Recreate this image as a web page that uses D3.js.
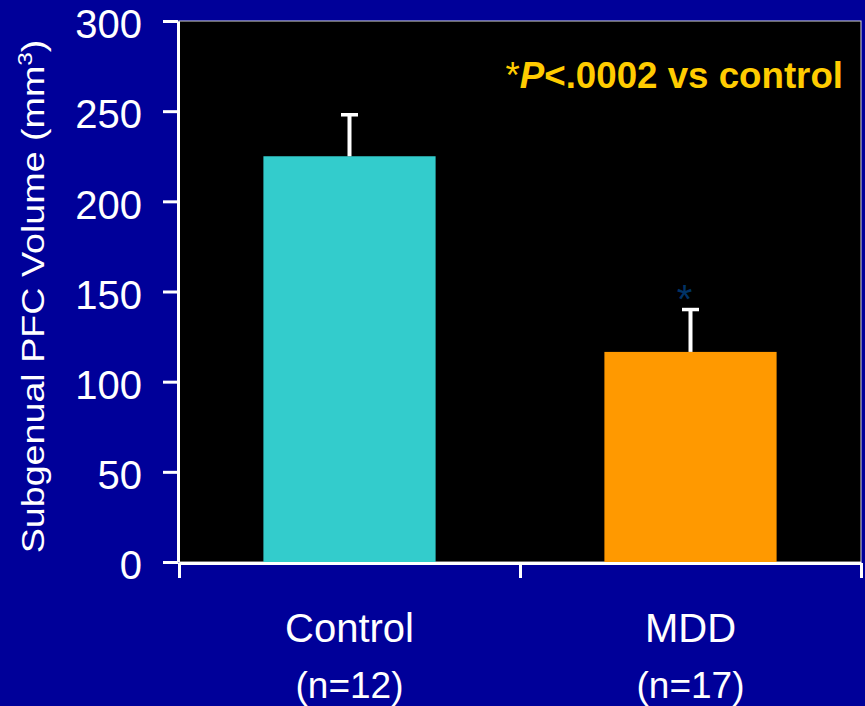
<!DOCTYPE html>
<html>
<head>
<meta charset="utf-8">
<script src="https://cdn.jsdelivr.net/npm/d3@7"></script>
<style>
  html, body { margin: 0; padding: 0; background: #000099; }
  svg { display: block; }
  text { font-family: "Liberation Sans", Arial, sans-serif; }
</style>
</head>
<body>
<script>
// ---- data ----
const categories = ["Control", "MDD"];
const sampleSizes = ["(n=12)", "(n=17)"];
const means = [225, 116.5];
const errorTops = [248, 140];
const barColors = ["#33CCCC", "#FF9900"];
const yTicks = [0, 50, 100, 150, 200, 250, 300];
const yTitle = "Subgenual PFC Volume (mm";
const yTitleSup = "3";
const noteStar = "*";
const noteP = "P";
const noteRest = "<.0002 vs control";
const sigMark = "*";
const sigIndex = 1;

// ---- layout ----
const W = 865, H = 706;
const pLeft = 179, pRight = 861, pTop = 21, pBottom = 562;

const svg = d3.select("body").append("svg").attr("width", W).attr("height", H);
svg.append("rect").attr("width", W).attr("height", H).attr("fill", "#000099");

const y = d3.scaleLinear().domain([0, 300]).range([pBottom, pTop]);
const x = d3.scaleBand().domain(categories).range([pLeft, pRight]).padding(0);
const xTick = d3.scaleLinear().domain([0, categories.length]).range([pLeft, pRight]);

// plot area
svg.append("rect").attr("x", pLeft).attr("y", pTop)
  .attr("width", pRight - pLeft).attr("height", pBottom - pTop)
  .attr("fill", "#000").attr("stroke", "#d8d8d8").attr("stroke-width", 1);

// bars
const barW = x.bandwidth() * 0.505;
svg.selectAll("rect.bar").data(categories).enter().append("rect")
  .attr("class", "bar")
  .attr("x", d => x(d) + x.bandwidth() / 2 - barW / 2)
  .attr("y", (d, i) => y(means[i]))
  .attr("width", barW)
  .attr("height", (d, i) => y(0) - y(means[i]))
  .attr("fill", (d, i) => barColors[i]);

// error bars (upper only)
const eb = svg.append("g");
categories.forEach((c, i) => {
  const cx = x(c) + x.bandwidth() / 2;
  eb.append("line").attr("x1", cx).attr("x2", cx)
    .attr("y1", y(means[i])).attr("y2", y(errorTops[i]))
    .attr("stroke", "#fff").attr("stroke-width", 4);
  eb.append("line").attr("x1", cx - 8.5).attr("x2", cx + 8.5)
    .attr("y1", y(errorTops[i])).attr("y2", y(errorTops[i]))
    .attr("stroke", "#fff").attr("stroke-width", 3.5);
});

// y axis
const yAxis = svg.append("g").attr("transform", `translate(${pLeft - 1},0)`)
  .call(d3.axisLeft(y).tickValues(yTicks).tickSize(15).tickSizeOuter(0).tickPadding(21));
yAxis.select(".domain").attr("stroke", "#fff").attr("stroke-width", 3);
yAxis.selectAll(".tick line").attr("stroke", "#fff").attr("stroke-width", 3);
yAxis.selectAll(".tick text").attr("fill", "#fff").attr("font-size", 40)
  .attr("font-family", "'Liberation Sans', Arial, sans-serif").attr("dy", "0.42em");

// x axis
const xAxis = svg.append("g").attr("transform", `translate(0,${pBottom + 1})`)
  .call(d3.axisBottom(xTick).tickValues(d3.range(categories.length + 1))
    .tickFormat("").tickSize(15).tickSizeOuter(0));
xAxis.select(".domain").attr("stroke", "#fff").attr("stroke-width", 3);
xAxis.selectAll(".tick line").attr("stroke", "#fff").attr("stroke-width", 3);

// category labels
svg.selectAll("text.cat").data(categories).enter().append("text")
  .attr("class", "cat")
  .attr("x", d => x(d) + x.bandwidth() / 2)
  .attr("y", 642)
  .attr("text-anchor", "middle").attr("fill", "#fff").attr("font-size", 40)
  .text(d => d);
svg.selectAll("text.n").data(sampleSizes).enter().append("text")
  .attr("class", "n")
  .attr("x", (d, i) => x(categories[i]) + x.bandwidth() / 2)
  .attr("y", 698)
  .attr("text-anchor", "middle").attr("fill", "#fff").attr("font-size", 37)
  .text(d => d);

// y title
const yt = svg.append("text")
  .attr("text-anchor", "middle").attr("fill", "#fff").attr("font-size", 31);
yt.append("tspan").text(yTitle);
yt.append("tspan").attr("font-size", 20).attr("dy", -12).text(yTitleSup);
yt.append("tspan").attr("dy", 12).text(")");
const natural = yt.node().getComputedTextLength();
const sx = 514 / natural;
yt.attr("transform", `translate(44,${(38 + 555) / 2}) rotate(-90) scale(${sx},1)`);

// annotation
const note = svg.append("text")
  .attr("x", 843).attr("y", 88).attr("text-anchor", "end")
  .attr("fill", "#FFCC00").attr("font-size", 36.7).attr("font-weight", "bold");
note.append("tspan").attr("font-weight", "normal").text(noteStar);
note.append("tspan").attr("font-style", "italic").text(noteP);
note.append("tspan").text(noteRest);

// significance mark
svg.append("text")
  .attr("x", x(categories[sigIndex]) + x.bandwidth() / 2 - 6)
  .attr("y", 313)
  .attr("text-anchor", "middle").attr("fill", "#003366").attr("font-size", 40)
  .text(sigMark);
</script>
</body>
</html>
